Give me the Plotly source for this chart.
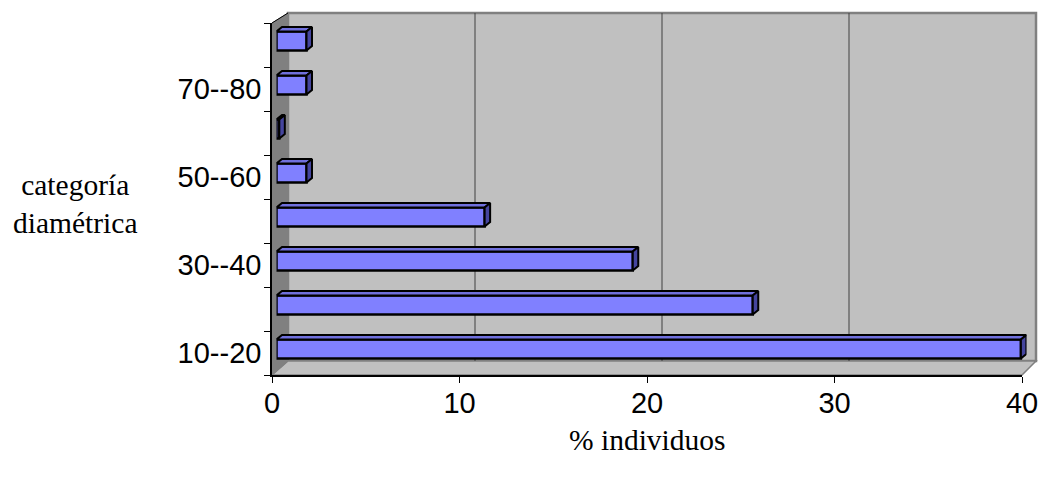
import plotly.graph_objects as go

# Diameter classes and share of individuals (%)
categories = ["10--20", "20--30", "30--40", "40--50", "50--60", "60--70", "70--80", "80--90"]
values = [39.7, 25.4, 19.0, 11.1, 1.6, 0.15, 1.6, 1.6]
x_ticks = [0, 10, 20, 30, 40]
x_title = "% individuos"
y_title = "categoría<br>diamétrica"

W, H = 1042, 481
X_MAX = 40

# Front plane of the pseudo-3D box (pixels)
FX0, FX1 = 272, 1022
FY_BOT, FY_TOP = 375, 23
# Back wall (pixels)
BX0, BX1 = 288, 1036
BY_BOT, BY_TOP = 361, 13
# Bars sit a little behind the front plane
BAR_OFF_X, BAR_OFF_Y = 4.5, 4.0
BAR_DEPTH_X, BAR_DEPTH_Y = 5.5, 4.5
BAR_WIDTH = 0.432

n = len(categories)
pos = list(range(n))


def px(x):
    return x / W


def py(y):
    return 1 - y / H


# Depth offsets expressed in data units of the bar axes
unit_x = (FX1 - FX0) / X_MAX
unit_y = (FY_BOT - FY_TOP) / n
dxu = BAR_DEPTH_X / unit_x
dyu = BAR_DEPTH_Y / unit_y

fig = go.Figure()

# Front faces of the bars
fig.add_trace(go.Bar(
    x=values, y=pos, orientation="h", xaxis="x2", yaxis="y2",
    width=BAR_WIDTH,
    marker=dict(color="#8080FF", line=dict(color="black", width=2.5)),
    hoverinfo="x", showlegend=False,
))

# Top and side faces of the bars
top_x, top_y, side_x, side_y = [], [], [], []
for i, v in zip(pos, values):
    yt = i + BAR_WIDTH / 2
    yb = i - BAR_WIDTH / 2
    top_x += [0, v, v + dxu, dxu, 0, None]
    top_y += [yt, yt, yt + dyu, yt + dyu, yt, None]
    side_x += [v, v, v + dxu, v + dxu, v, None]
    side_y += [yb, yt, yt + dyu, yb + dyu, yb, None]

fig.add_trace(go.Scatter(
    x=top_x, y=top_y, xaxis="x2", yaxis="y2", mode="lines",
    fill="toself", fillcolor="#7070DD",
    line=dict(color="black", width=2), hoverinfo="skip", showlegend=False,
))
fig.add_trace(go.Scatter(
    x=side_x, y=side_y, xaxis="x2", yaxis="y2", mode="lines",
    fill="toself", fillcolor="#45459E",
    line=dict(color="black", width=2), hoverinfo="skip", showlegend=False,
))

# Carrier for the front axes
fig.add_trace(go.Scatter(x=[], y=[], xaxis="x", yaxis="y", showlegend=False))

# Walls and floor of the box
shapes = []
shapes.append(dict(
    type="path", xref="paper", yref="paper", layer="below",
    path=f"M{px(BX0)},{py(BY_BOT)} L{px(BX0)},{py(BY_TOP)} L{px(BX1)},{py(BY_TOP)} "
         f"L{px(BX1)},{py(BY_BOT)} Z",
    fillcolor="#C0C0C0", line=dict(color="#808080", width=2.5),
))
shapes.append(dict(
    type="path", xref="paper", yref="paper", layer="below",
    path=f"M{px(FX0)},{py(FY_BOT)} L{px(BX0)},{py(BY_BOT)} L{px(BX1)},{py(BY_BOT)} "
         f"L{px(FX1)},{py(FY_BOT)} Z",
    fillcolor="#C0C0C0", line=dict(color="#808080", width=1.5),
))
shapes.append(dict(
    type="path", xref="paper", yref="paper", layer="below",
    path=f"M{px(FX0)},{py(FY_BOT)} L{px(FX0)},{py(FY_TOP)} L{px(BX0)},{py(BY_TOP)} "
         f"L{px(BX0)},{py(BY_BOT)} Z",
    fillcolor="#808080", line=dict(color="#808080", width=1),
))
# Top edge of the left axis running back to the wall
shapes.append(dict(
    type="line", xref="paper", yref="paper", layer="above",
    x0=px(FX0), y0=py(FY_TOP), x1=px(BX0), y1=py(BY_TOP),
    line=dict(color="black", width=1),
))
# Gridlines on the back wall
for t in x_ticks[1:-1]:
    gx = BX0 + (BX1 - BX0) * t / X_MAX
    shapes.append(dict(
        type="line", xref="paper", yref="paper", layer="below",
        x0=px(gx), x1=px(gx), y0=py(BY_TOP), y1=py(BY_BOT),
        line=dict(color="#404040", width=1),
    ))

label_vals = [i for i in pos if i % 2 == 0]
label_text = [categories[i] for i in label_vals]

fig.update_layout(
    width=W, height=H, autosize=False,
    margin=dict(l=0, r=0, t=0, b=0, pad=0, autoexpand=False),
    paper_bgcolor="white",
    plot_bgcolor="rgba(0,0,0,0)",
    showlegend=False,
    shapes=shapes,
    xaxis=dict(
        domain=[px(FX0), px(FX1)], range=[0, X_MAX], anchor="y", automargin=False,
        tickvals=x_ticks, ticks="outside", ticklen=6, tickcolor="black",
        ticklabelstandoff=-5,
        showline=True, linecolor="black", linewidth=1.5,
        showgrid=False, zeroline=False,
        tickfont=dict(family="Liberation Sans, Arial", size=29, color="black"),
    ),
    yaxis=dict(
        domain=[py(FY_BOT), py(FY_TOP)], range=[-0.5, n - 0.5], anchor="x", automargin=False,
        tickvals=label_vals, ticktext=label_text, ticks="",
        ticklabelstandoff=3,
        minor=dict(tickvals=[i - 0.5 for i in range(n + 1)], ticks="outside",
                   ticklen=6, tickcolor="black", showgrid=False),
        showline=True, linecolor="black", linewidth=1.5,
        showgrid=False, zeroline=False,
        tickfont=dict(family="Liberation Sans, Arial", size=29, color="black"),
    ),
    xaxis2=dict(
        domain=[px(FX0 + BAR_OFF_X), px(FX1 + BAR_OFF_X)], range=[0, X_MAX],
        anchor="y2", visible=False, automargin=False,
    ),
    yaxis2=dict(
        domain=[py(FY_BOT - BAR_OFF_Y), py(FY_TOP - BAR_OFF_Y)], range=[-0.5, n - 0.5],
        anchor="x2", visible=False, automargin=False,
    ),
    annotations=[
        dict(text=y_title, xref="paper", yref="paper", x=px(75), y=py(204),
             showarrow=False, xanchor="center", yanchor="middle",
             font=dict(family="Liberation Serif, Times New Roman", size=29.5, color="black")),
        dict(text=x_title, xref="paper", yref="paper", x=px(647), y=py(440),
             showarrow=False, xanchor="center", yanchor="middle",
             font=dict(family="Liberation Serif, Times New Roman", size=29.5, color="black")),
    ],
)

fig.write_html("out.html", config={"responsive": False})
